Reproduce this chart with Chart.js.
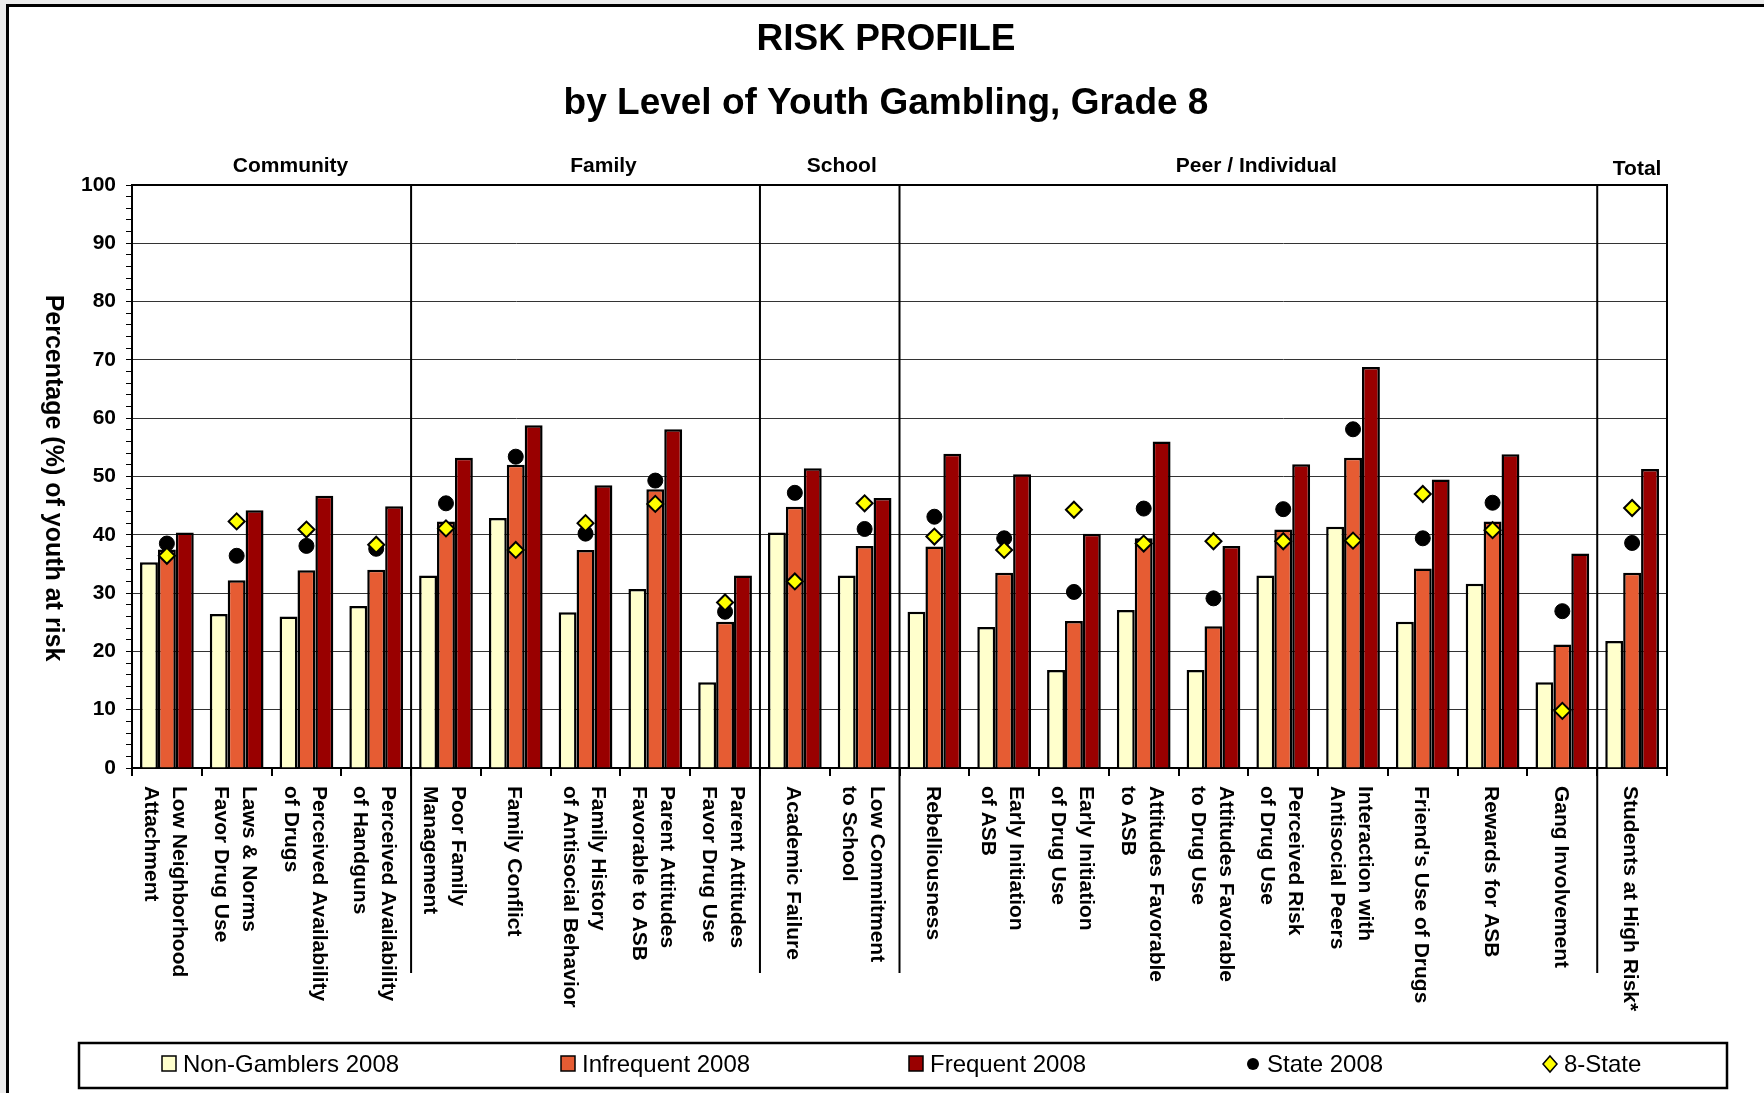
<!DOCTYPE html>
<html>
<head>
<meta charset="utf-8">
<title>Risk Profile</title>
<script src="https://cdn.jsdelivr.net/npm/chart.js@4.4.1/dist/chart.umd.min.js"></script>
<style>
  html, body { margin: 0; padding: 0; background: #ebebeb; }
  #chart { display: block; }
</style>
</head>
<body>
<canvas id="chart" width="1764" height="1093"></canvas>
<script>
// categories (multi-line labels) and the groups they belong to
const categories = [
  ["Low Neighborhood", "Attachment"],
  ["Laws & Norms", "Favor Drug Use"],
  ["Perceived Availability", "of Drugs"],
  ["Perceived Availability", "of Handguns"],
  ["Poor Family", "Management"],
  ["Family Conflict"],
  ["Family History", "of Antisocial Behavior"],
  ["Parent Attitudes", "Favorable to ASB"],
  ["Parent Attitudes", "Favor Drug Use"],
  ["Academic Failure"],
  ["Low Commitment", "to School"],
  ["Rebelliousness"],
  ["Early Initiation", "of ASB"],
  ["Early Initiation", "of Drug Use"],
  ["Attitudes Favorable", "to ASB"],
  ["Attitudes Favorable", "to Drug Use"],
  ["Perceived Risk", "of Drug Use"],
  ["Interaction with", "Antisocial Peers"],
  ["Friend's Use of Drugs"],
  ["Rewards for ASB"],
  ["Gang Involvement"],
  ["Students at High Risk*"]
];
const groups = ["Community", "Family", "School", "Peer / Individual", "Total"];
const groupSizes = [4, 5, 2, 10, 1];

// series values (% of youth at risk)
const nonGamblers = [35.3, 26.4, 26.0, 27.8, 33.0, 42.9, 26.7, 30.7, 14.7, 40.4, 33.0, 26.8, 24.2, 16.8, 27.1, 16.8, 33.0, 41.4, 25.1, 31.6, 14.7, 21.8];
const infrequent  = [37.5, 32.2, 33.9, 34.0, 42.3, 52.0, 37.4, 47.8, 25.1, 44.8, 38.1, 38.0, 33.5, 25.2, 39.4, 24.3, 40.9, 53.2, 34.2, 42.3, 21.2, 33.5];
const frequent    = [40.4, 44.2, 46.7, 44.9, 53.2, 58.8, 48.5, 58.1, 33.0, 51.4, 46.3, 53.9, 50.4, 40.2, 56.0, 38.1, 52.1, 68.8, 49.5, 53.8, 36.8, 51.3];
const state2008   = [38.5, 36.4, 38.1, 37.6, 45.4, 53.4, 40.2, 49.3, 26.8, 47.2, 41.0, 43.1, 39.4, 30.2, 44.5, 29.1, 44.4, 58.1, 39.4, 45.5, 26.9, 38.6];
const eightState  = [36.4, 42.3, 40.9, 38.3, 41.1, 37.4, 42.0, 45.3, 28.4, 32.0, 45.4, 39.7, 37.4, 44.3, 38.5, 38.9, 38.9, 39.0, 47.0, 40.8, 9.8, 44.6];

const yTickLabels = [0, 10, 20, 30, 40, 50, 60, 70, 80, 90, 100];

const FONT = "'Liberation Sans', Arial, sans-serif";
Chart.defaults.font.family = FONT;
Chart.defaults.color = '#000';

const bar = (label, data, color) => ({
  type: 'bar', label, data, order: 2,
  backgroundColor: color, borderColor: '#000', borderWidth: 2.5,
  barPercentage: 1.0, categoryPercentage: 0.77
});

// everything the library doesn't draw itself: frame, titles, groups, rotated labels, legend
const decor = {
  id: 'decor',
  beforeDraw(chart) {
    const c = chart.ctx;
    c.save();
    c.fillStyle = '#ebebeb';
    c.fillRect(0, 0, chart.width, chart.height);
    c.fillStyle = '#fff';
    c.fillRect(6, 4, chart.width, chart.height);
    c.fillStyle = '#000';
    c.fillRect(6, 4, 3, chart.height);
    c.fillRect(6, 4, chart.width, 3);
    c.restore();
  },
  afterDraw(chart) {
    const c = chart.ctx;
    const area = chart.chartArea;
    const xs = chart.scales.x;
    c.save();

    // titles
    c.fillStyle = '#000';
    c.textAlign = 'center';
    c.textBaseline = 'middle';
    c.font = "bold 37px " + FONT;
    c.fillText("RISK PROFILE", 886, 40);
    c.fillText("by Level of Youth Gambling, Grade 8", 886, 104);

    // plot frame top / right
    c.strokeStyle = '#000';
    c.lineWidth = 2;
    c.beginPath();
    c.moveTo(area.left, area.top);
    c.lineTo(area.right, area.top);
    c.lineTo(area.right, area.bottom);
    c.stroke();

    // group separators and headings
    const boundary = (i) => i <= 0 ? area.left : i >= categories.length ? area.right
      : (xs.getPixelForValue(i - 1) + xs.getPixelForValue(i)) / 2;
    const shift = [19, 18, 12, 8, 5];
    c.font = "bold 21px " + FONT;
    let start = 0;
    groups.forEach((g, k) => {
      const end = start + groupSizes[k];
      const x0 = boundary(start), x1 = boundary(end);
      c.fillText(g, (x0 + x1) / 2 + shift[k], g === "Total" ? 169 : 166);
      if (end < categories.length) {
        c.beginPath();
        c.moveTo(x1, area.top);
        c.lineTo(x1, 973);
        c.stroke();
      }
      start = end;
    });

    // y axis title, reading top to bottom
    c.save();
    c.translate(53, 478);
    c.rotate(Math.PI / 2);
    c.font = "bold 25px " + FONT;
    c.fillText("Percentage (%) of youth at risk", 0, 0);
    c.restore();

    // category labels, rotated clockwise
    c.font = "bold 21px " + FONT;
    c.textAlign = 'left';
    const lh = 28;
    categories.forEach((lines, i) => {
      const cx = xs.getPixelForValue(i) - 2;
      lines.forEach((line, j) => {
        c.save();
        c.translate(cx + ((lines.length - 1) / 2 - j) * lh, area.bottom + 18);
        c.rotate(Math.PI / 2);
        c.fillText(line, 0, 0);
        c.restore();
      });
    });

    // legend
    c.lineWidth = 2.5;
    c.strokeRect(79, 1043, 1648, 45);
    c.font = "24px " + FONT;
    const textX = [183, 582, 930, 1267, 1564];
    const ly = 1064;
    chart.data.datasets.forEach((ds, i) => {
      const tx = textX[i];
      const mx = tx - 14;
      c.lineWidth = 1.5;
      c.fillStyle = ds.backgroundColor;
      c.strokeStyle = '#000';
      if (ds.type === 'bar') {
        c.fillRect(mx - 7, ly - 8, 14, 15);
        c.strokeRect(mx - 7, ly - 8, 14, 15);
      } else if (ds.pointStyle === 'circle') {
        c.beginPath();
        c.arc(mx, ly, 6, 0, Math.PI * 2);
        c.fill();
      } else {
        c.beginPath();
        c.moveTo(mx, ly - 8); c.lineTo(mx + 7, ly); c.lineTo(mx, ly + 8); c.lineTo(mx - 7, ly);
        c.closePath();
        c.fill();
        c.stroke();
      }
      c.fillStyle = '#000';
      c.fillText(ds.label, tx, ly + 1);
    });

    c.restore();
  }
};

new Chart(document.getElementById('chart'), {
  type: 'bar',
  data: {
    labels: categories,
    datasets: [
      bar("Non-Gamblers 2008", nonGamblers, '#FFFFCC'),
      bar("Infrequent 2008", infrequent, '#E65C33'),
      bar("Frequent 2008", frequent, '#990000'),
      {
        type: 'line', label: "State 2008", data: state2008, order: 1, showLine: false,
        pointStyle: 'circle', pointRadius: 7.5, backgroundColor: '#000', borderColor: '#000'
      },
      {
        type: 'line', label: "8-State", data: eightState, order: 0, showLine: false,
        pointStyle: 'rectRot', pointRadius: 8, pointBorderWidth: 2,
        backgroundColor: '#FFFF00', borderColor: '#000'
      }
    ]
  },
  options: {
    responsive: false,
    animation: false,
    devicePixelRatio: 1,
    layout: { padding: { left: 0, right: 97, top: 185, bottom: 0 } },
    plugins: { legend: { display: false }, tooltip: { enabled: false } },
    scales: {
      x: {
        offset: true,
        ticks: { display: false },
        grid: { offset: true, drawOnChartArea: false, drawTicks: true, tickLength: 8, tickColor: '#000', lineWidth: 2 },
        border: { display: true, color: '#000', width: 2 },
        afterFit: (s) => { s.height = 325; }
      },
      y: {
        min: 0, max: 100,
        ticks: {
          stepSize: 2, autoSkip: false, maxTicksLimit: 100, padding: 10,
          font: { size: 21, weight: 'bold' }, color: '#000',
          callback: (v) => yTickLabels.includes(v) ? v : ''
        },
        grid: {
          color: (ctx) => yTickLabels.includes(ctx.tick.value) ? '#333' : 'rgba(0,0,0,0)',
          lineWidth: 1, drawTicks: true, tickLength: 6, tickColor: '#000'
        },
        border: { display: true, color: '#000', width: 2 },
        afterFit: (s) => { s.width = 132; }
      }
    }
  },
  plugins: [decor]
});
</script>
</body>
</html>
